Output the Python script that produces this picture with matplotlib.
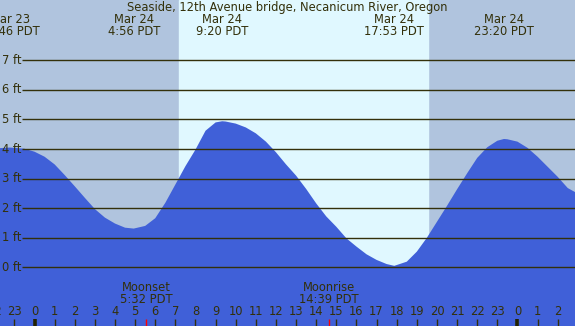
import matplotlib
matplotlib.use("Agg")
import matplotlib.pyplot as plt
from matplotlib.transforms import blended_transform_factory

# ---- data (hours relative to Mar 24 00:00 PDT) ----
tide_hours = [-1.72, -1.5, -1.23, -1.0, -0.5, 0.0, 0.5, 1.0, 1.5, 2.0, 2.5, 3.0, 3.5, 4.0, 4.5, 4.93,
              5.5, 6.0, 6.5, 7.0, 7.5, 8.0, 8.5, 9.0, 9.33, 9.5, 10.0, 10.5, 11.0, 11.5, 12.0,
              12.5, 13.0, 13.5, 14.0, 14.5, 15.0, 15.5, 16.0, 16.5, 17.0, 17.5, 17.88, 18.5,
              19.0, 19.5, 20.0, 20.5, 21.0, 21.5, 22.0, 22.5, 23.0, 23.33, 23.5, 24.0, 24.5,
              25.0, 25.5, 26.0, 26.5, 26.9]
tide_feet = [4.03, 4.04, 4.05, 4.04, 4.01, 3.91, 3.74, 3.48, 3.12, 2.74, 2.35, 1.97, 1.68, 1.48, 1.34, 1.31,
             1.40, 1.66, 2.18, 2.80, 3.42, 3.98, 4.62, 4.90, 4.94, 4.93, 4.86, 4.73, 4.53, 4.25, 3.89,
             3.48, 3.10, 2.65, 2.16, 1.72, 1.37, 0.98, 0.70, 0.44, 0.25, 0.11, 0.05, 0.19,
             0.53, 1.00, 1.54, 2.08, 2.64, 3.18, 3.70, 4.06, 4.28, 4.34, 4.33, 4.25, 4.04,
             3.74, 3.40, 3.06, 2.68, 2.53]

extreme_hours = [-1.23, 4.93, 9.33, 17.88, 23.33]
extreme_labels = [("Mar 23", "22:46 PDT"), ("Mar 24", "4:56 PDT"), ("Mar 24", "9:20 PDT"),
                  ("Mar 24", "17:53 PDT"), ("Mar 24", "23:20 PDT")]

sunrise, sunset = 7.18, 19.56
moon_hours = [5.533, 14.65]
moon_labels = [("Moonset", "5:32 PDT"), ("Moonrise", "14:39 PDT")]

ft_ticks = [0, 1, 2, 3, 4, 5, 6, 7]
hour_ticks = list(range(-2, 27))
title = "Seaside, 12th Avenue bridge, Necanicum River, Oregon"

# ---- style ----
W, H = 575, 326
night = "#b0c4de"
day = "#e0f8ff"
water = "#4060d8"
ink = "#33300a"
fs = 8.3

fig = plt.figure(figsize=(W / 100, H / 100), dpi=100)
ax = fig.add_axes([0, 0, 1, 1])
ax.set_xlim(-1.715, 26.86)
ax.set_ylim(-1.985, 9.04)
ax.axis("off")
ax.set_facecolor(night)
fig.patch.set_facecolor(night)

ax.axvspan(sunrise, sunset, color=day, zorder=0)
ax.fill_between(tide_hours, -5, tide_feet, color=water, zorder=2, lw=0)

# grid lines and labels
x0 = -1.715 + 22 / 20.12
for f in ft_ticks:
    ax.plot([x0, 27], [f, f], color=ink, lw=1.0, zorder=3, solid_capstyle="butt")
    ax.text(-1.715 + 2 / 20.12, f, f"{f} ft", color=ink, fontsize=fs, ha="left", va="center", zorder=4)

bt = blended_transform_factory(ax.transData, ax.transAxes)

def ypx(p):
    return 1 - p / H

ax.text(0.5, ypx(7.5), title, transform=ax.transAxes, ha="center", va="center",
        color=ink, fontsize=fs, zorder=5)

for h, (l1, l2) in zip(extreme_hours, extreme_labels):
    ax.text(h, ypx(19.5), l1, transform=bt, ha="center", va="center", color=ink, fontsize=fs, zorder=5)
    ax.text(h, ypx(31.5), l2, transform=bt, ha="center", va="center", color=ink, fontsize=fs, zorder=5)

for h, (l1, l2) in zip(moon_hours, moon_labels):
    ax.text(h, ypx(287.5), l1, transform=bt, ha="center", va="center", color=ink, fontsize=fs, zorder=5)
    ax.text(h, ypx(299.5), l2, transform=bt, ha="center", va="center", color=ink, fontsize=fs, zorder=5)
    ax.plot([h, h], [ypx(319), 0], transform=bt, color="red", lw=1.0, zorder=6, solid_capstyle="butt")

for h in hour_ticks:
    lab = str(h % 24)
    ax.text(h, ypx(311.5), lab, transform=bt, ha="center", va="center", color=ink, fontsize=fs, zorder=5)
    if h % 24 == 0:
        ax.plot([h, h], [ypx(319), 0], transform=bt, color="#222200", lw=2.6, zorder=6, solid_capstyle="butt")
    else:
        ax.plot([h, h], [ypx(319), 0], transform=bt, color=ink, lw=1.0, zorder=6, solid_capstyle="butt")

fig.savefig("out.png", dpi=100, facecolor=night)
